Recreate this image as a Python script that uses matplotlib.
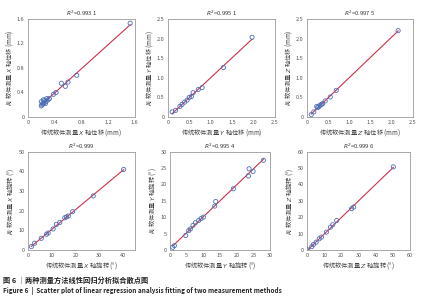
import numpy as np
import matplotlib
matplotlib.use('Agg')
from matplotlib import pyplot as plt

plt.rcParams['font.family'] = ['Noto Sans CJK SC', 'DejaVu Sans']
plt.rcParams['axes.unicode_minus'] = False

# X translation (mm)
tx_trad = [0.20, 0.21, 0.22, 0.20, 0.24, 0.25, 0.27, 0.28, 0.30, 0.32, 0.23, 0.26,
           0.38, 0.42, 0.50, 0.56, 0.60, 0.73, 1.53]
tx_ai = [0.18, 0.20, 0.22, 0.25, 0.23, 0.27, 0.25, 0.30, 0.28, 0.30, 0.28, 0.22,
         0.37, 0.40, 0.55, 0.50, 0.57, 0.68, 1.53]
# Y translation (mm)
ty_trad = [0.10, 0.18, 0.28, 0.39, 0.45, 0.50, 0.59, 0.71, 0.80, 1.30, 1.97, 0.55, 0.33]
ty_ai = [0.13, 0.17, 0.27, 0.38, 0.43, 0.50, 0.62, 0.70, 0.75, 1.26, 2.03, 0.52, 0.32]
# Z translation (mm)
tz_trad = [0.10, 0.16, 0.23, 0.25, 0.31, 0.37, 0.43, 0.55, 0.69, 2.15, 0.28, 0.34]
tz_ai = [0.06, 0.13, 0.27, 0.24, 0.30, 0.34, 0.41, 0.51, 0.68, 2.20, 0.26, 0.32]
# X rotation (deg)
rx_trad = [1.4, 2.8, 5.6, 7.8, 8.5, 10.6, 12.0, 13.4, 15.5, 16.2, 17.0, 18.8, 27.5, 40.3]
rx_ai = [1.7, 3.4, 5.9, 8.0, 8.6, 10.7, 13.0, 14.0, 16.4, 16.8, 17.3, 19.5, 27.5, 41.0]
# Y rotation (deg)
ry_trad = [0.8, 1.3, 4.7, 5.6, 6.1, 6.9, 7.6, 8.6, 9.3, 10.0, 13.4, 13.7, 19.0, 23.5,
           23.7, 24.9, 28.0]
ry_ai = [0.8, 1.3, 4.4, 5.9, 6.4, 7.5, 8.3, 9.0, 9.6, 10.0, 13.4, 14.8, 18.7, 22.6,
         24.8, 24.0, 27.4]
# Z rotation (deg)
rz_trad = [0.4, 2.8, 3.8, 5.3, 7.1, 8.4, 11.3, 13.7, 15.0, 17.3, 26.0, 27.2, 50.3]
rz_ai = [0.0, 2.0, 3.3, 4.7, 6.8, 7.8, 10.9, 13.9, 15.4, 18.0, 25.2, 26.2, 50.8]

r2_labels = ['0.993 1', '0.995 1', '0.997 5', '0.999', '0.995 4', '0.999 6']

panels = [
    (tx_trad, tx_ai, 'X', '轴位移 (mm)', 1.6, 0.4, 1.6),
    (ty_trad, ty_ai, 'Y', '轴位移 (mm)', 2.5, 0.5, 2.5),
    (tz_trad, tz_ai, 'Z', '轴位移 (mm)', 2.5, 0.5, 2.5),
    (rx_trad, rx_ai, 'X', '轴旋转 (°)', 45, 10, 50),
    (ry_trad, ry_ai, 'Y', '轴旋转 (°)', 30, 5, 30),
    (rz_trad, rz_ai, 'Z', '轴旋转 (°)', 60, 10, 60),
]

boxes = [
    [0.066, 0.610, 0.252, 0.327],
    [0.396, 0.610, 0.252, 0.327],
    [0.724, 0.610, 0.250, 0.327],
    [0.066, 0.167, 0.252, 0.327],
    [0.401, 0.167, 0.236, 0.327],
    [0.724, 0.167, 0.243, 0.327],
]

fig = plt.figure(figsize=(4.24, 3.0), dpi=100)

for i, (xs, ys, ax_name, unit, xmax, step, ymax) in enumerate(panels):
    ax = fig.add_axes(boxes[i])
    xs = np.array(xs)
    ys = np.array(ys)
    k, b = np.polyfit(xs, ys, 1)
    lx = np.array([xs.min(), xs.max()])
    ax.plot(lx, k * lx + b, color='#d0314a', lw=0.8, zorder=2)
    ax.scatter(xs, ys, s=9, facecolors='none', edgecolors='#4a6fb5', linewidths=0.6, zorder=3)
    ax.set_xlim(0, xmax)
    ax.set_ylim(0, ymax)
    ticks = np.arange(0, ymax + step / 2, step)
    xticks = ticks[ticks <= xmax + 1e-9]
    ax.set_xticks(xticks)
    ax.set_yticks(ticks)
    fmt = (lambda v: '0' if v == 0 else ('%g' % v if step >= 1 else '%.1f' % v))
    ax.set_xticklabels([fmt(v) for v in xticks])
    ax.set_yticklabels([fmt(v) for v in ticks])
    ax.tick_params(labelsize=4, length=0, pad=2.5, colors='#555555')
    for sp in ax.spines.values():
        sp.set_color('#9a9a9a')
        sp.set_linewidth(0.6)
    ax.set_title('$R^2$=' + r2_labels[i], fontsize=4.2, pad=2.5, color='#333333')
    ax.set_xlabel('传统软件测量 $' + ax_name + '$ ' + unit, fontsize=4.5, labelpad=1, color='#444444')
    ax.set_ylabel('AI 软件测量 $' + ax_name + '$ ' + unit, fontsize=4.5, labelpad=1.5, color='#444444')

fig.text(0.008, 0.058, '图 6 ｜两种测量方法线性回归分析拟合散点图', fontsize=5.2, color='#222222', fontweight='bold')
fig.text(0.008, 0.022, 'Figure 6  |  Scatter plot of linear regression analysis fitting of two measurement methods',
         fontsize=4.6, color='#222222', fontweight='bold')

fig.savefig('out.png', dpi=100)
